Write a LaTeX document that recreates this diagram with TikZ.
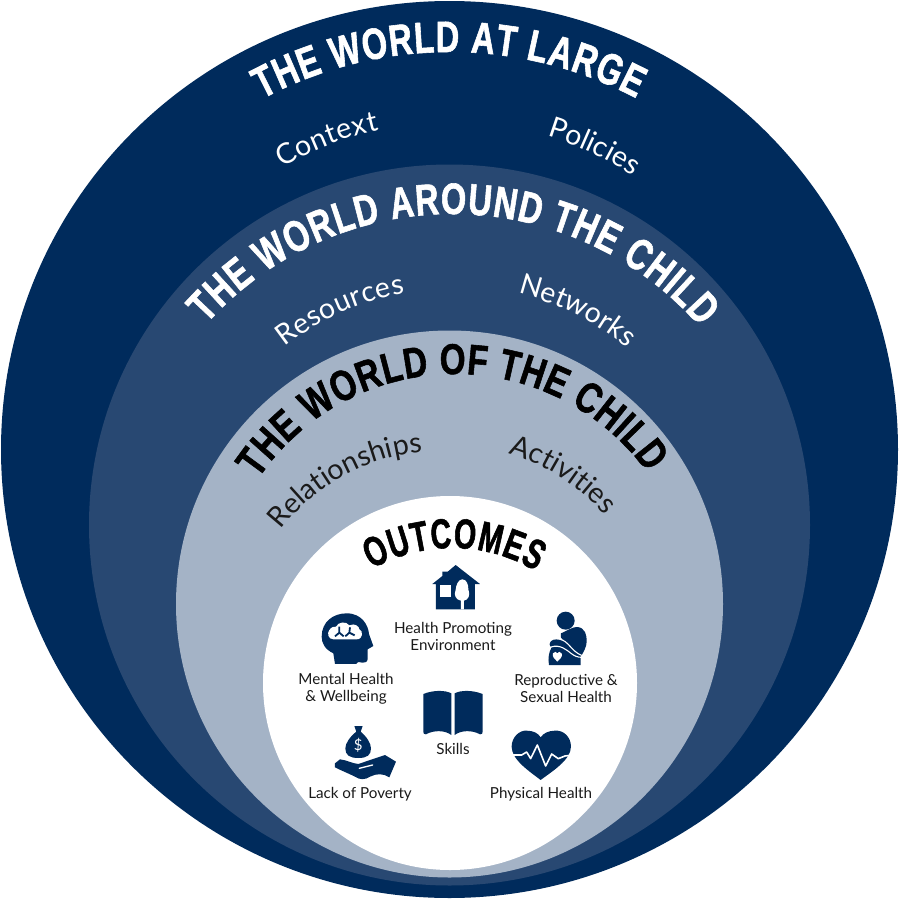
\documentclass[tikz,border=0pt]{standalone}
\usepackage{fontspec}
\setmainfont{Lato}
\newfontfamily\titlef[FakeStretch=0.74,FakeBold=1.3]{Liberation Sans}
\newfontfamily\titleh[FakeStretch=0.77,FakeBold=1.3]{Liberation Sans}
\newfontfamily\titleg[FakeStretch=0.68,FakeBold=1.3]{Liberation Sans}
\usetikzlibrary{decorations.text}
\definecolor{navy}{HTML}{002B5C}
\definecolor{midblue}{HTML}{284872}
\definecolor{paleblue}{HTML}{A4B3C6}
\definecolor{ink}{HTML}{1A1A1A}
\newcommand{\twhite}{\titlef\bfseries\fontsize{44}{44}\selectfont\color{white}}
\newcommand{\tblack}{\titleh\bfseries\fontsize{43}{43}\selectfont\color{black}}
\newcommand{\toutc}{\titleg\bfseries\fontsize{42}{42}\selectfont\color{black}}
\newcommand{\lwhite}{\fontsize{28.5}{29}\selectfont\color{white}}
\newcommand{\lblack}{\fontsize{28.5}{29}\selectfont\color{ink}}
\newcommand{\arclabel}[7]{\path[decorate,decoration={text along path,text align={fit to path},text={|#6|#7}}] (#1,#2)+(#3:#4) arc[start angle=#3,end angle=#5,radius=#4];}
\tikzset{
  small/.style={text=ink,font=\fontsize{15.2}{17}\selectfont,align=center,inner sep=0pt},
  icon/.style={fill=navy,draw=none},
  cut/.style={fill=white,draw=none},
  cutline/.style={draw=white,fill=none,line cap=round,line join=round},
  zoomone/.style={shift={(290,510)},x=0.3333pt,y=-0.3333pt},
  zoomtwo/.style={shift={(290,680)},x=0.3333pt,y=-0.3333pt},
  zoomsev/.style={shift={(535,600)},x=0.3333pt,y=-0.3333pt}
}
\begin{document}
\begin{tikzpicture}[x=1pt,y=-1pt]
\useasboundingbox (0,0) rectangle (900,900);
\fill[white] (0,0) rectangle (900,900);
\fill[navy] (449.5,449.5) circle[radius=448.5];
\fill[midblue] (449.5,525) circle[radius=360.5];
\fill[paleblue] (449.5,604) circle[radius=273.5];
\fill[white] (450,683) circle[radius=187];
% curved headings
\arclabel{450}{450}{241.8}{398}{297.9}{\twhite}{THE WORLD AT LARGE}
\arclabel{452}{543}{221.7}{329}{319}{\twhite}{THE WORLD AROUND THE CHILD}
\arclabel{455}{611}{213.8}{237}{324.4}{\tblack}{THE WORLD OF THE CHILD}
\arclabel{452}{711}{240.5}{163}{301}{\toutc}{OUTCOMES}
% curved labels
\arclabel{450}{450}{239.3}{328}{257.5}{\lwhite}{Context}
\arclabel{450}{450}{287.2}{329}{303.2}{\lwhite}{Policies}
\arclabel{452}{560}{231.8}{271}{260}{\lwhite}{Resources}
\arclabel{452}{560}{283.9}{275}{309.4}{\lwhite}{Networks}
\arclabel{442}{655}{217.8}{204}{264}{\lblack}{Relationships}
\arclabel{447}{655}{287}{211}{318.4}{\lblack}{Activities}
% small labels
\node[small] (env) at (453,636.5) {Health Promoting\\Environment};
\node[small] (mental) at (346,688.5) {Mental Health\\\& Wellbeing};
\node[small] (repro) at (566,688.5) {Reproductive \&\\Sexual Health};
\node[small] (skills) at (453,749) {Skills};
\node[small] (poverty) at (360,794) {Lack of Poverty};
\node[small] (physical) at (541,794) {Physical Health};
% house
\begin{scope}[zoomone]
\fill[icon] (497,165) -- (570,222) -- (555,222) -- (555,298) -- (438,298) -- (438,222) -- (427,222) -- (457,198) -- (457,185) -- (472,185) -- (472,186) -- cycle;
\fill[cut] (450,225) rectangle (482,262);
\fill[cut] (513,298) -- (513,272) .. controls (498,270) and (490,255) .. (497,240) .. controls (498,225) and (505,208) .. (517,208) .. controls (530,208) and (536,225) .. (535,238) .. controls (542,255) and (535,270) .. (522,272) -- (522,298) -- cycle;
% head
\fill[icon] (135,462) -- (130,430) .. controls (105,418) and (95,400) .. (95,380) .. controls (95,335) and (130,310) .. (170,310) .. controls (215,310) and (235,345) .. (237,372) -- (250,408) -- (233,418) -- (233,448) .. controls (232,458) and (222,460) .. (205,456) -- (198,462) -- cycle;
\fill[cut] (130,388) .. controls (115,388) and (110,370) .. (118,360) .. controls (125,350) and (132,350) .. (138,350) .. controls (145,335) and (168,333) .. (178,346) .. controls (195,338) and (208,350) .. (208,358) .. controls (220,362) and (220,388) .. (200,388) -- cycle;
\draw[navy,line width=1.8pt] (148,350) -- (148,368) (135,379) -- (148,368) -- (161,379);
\draw[navy,line width=1.8pt] (180,352) -- (178,368) (166,379) -- (178,368) -- (194,376);
\end{scope}
% pregnant figure
\begin{scope}[zoomsev]
\fill[icon] (92,62) circle[radius=27];
\fill[icon] (78,100) .. controls (100,90) and (115,80) .. (127,81) .. controls (150,83) and (156,105) .. (155,125) .. controls (155,140) and (145,158) .. (137,170) -- (137,195) -- (42,195) .. controls (38,175) and (42,155) .. (50,142) .. controls (42,138) and (42,128) .. (50,122) .. controls (58,116) and (70,118) .. (85,122) .. controls (78,115) and (74,108) .. (78,100) -- cycle;
\draw[cutline,line width=1.1pt] (75,118) .. controls (100,122) and (110,155) .. (140,166);
\draw[cutline,line width=1.1pt] (48,141) .. controls (75,132) and (95,150) .. (108,160) .. controls (118,168) and (128,172) .. (140,172);
\fill[cut] (67,185) .. controls (60,178) and (50,170) .. (54,160) .. controls (58,153) and (65,155) .. (67,160) .. controls (69,155) and (76,153) .. (80,160) .. controls (84,170) and (74,178) .. (67,185) -- cycle;
\end{scope}
% book, bag, hand, heart
\begin{scope}[zoomtwo]
\fill[icon] (400,42) .. controls (430,30) and (465,30) .. (484,40) -- (484,165) .. controls (465,150) and (430,150) .. (408,163) .. controls (402,164) and (400,160) .. (400,155) -- cycle;
\fill[icon] (578,42) .. controls (548,30) and (513,30) .. (494,40) -- (494,165) .. controls (513,150) and (548,150) .. (570,163) .. controls (576,164) and (578,160) .. (578,155) -- cycle;
% money bag
\fill[icon] (193,138) -- (218,138) -- (212,155) .. controls (230,170) and (243,190) .. (243,205) .. controls (243,225) and (232,234) .. (205,234) .. controls (178,234) and (166,225) .. (166,205) .. controls (166,190) and (180,170) .. (199,155) -- cycle;
\node[text=white,font=\fontsize{15}{15}\selectfont,inner sep=0pt] (dollar) at (205,197) {\$};
% hand
\fill[icon] (135,250) -- (150,238) .. controls (170,240) and (185,250) .. (205,252) -- (285,225) -- (318,245) -- (298,292) .. controls (280,280) and (260,280) .. (240,290) .. controls (225,300) and (210,300) .. (195,290) .. controls (175,280) and (150,270) .. (135,262) -- cycle;
\draw[cutline,line width=1.3pt] (208,265) -- (248,255);
% heart
\fill[icon] (752,300) .. controls (720,275) and (665,240) .. (665,200) .. controls (665,170) and (690,150) .. (710,152) .. controls (730,152) and (745,160) .. (752,172) .. controls (760,160) and (775,152) .. (795,152) .. controls (820,150) and (843,170) .. (843,200) .. controls (843,240) and (785,275) .. (752,300) -- cycle;
\draw[cutline,line width=1.6pt,line cap=butt] (665,225) -- (695,225) -- (710,216) -- (722,236) -- (742,195) -- (767,258) -- (785,222) -- (805,236) -- (825,228) -- (850,225);
\end{scope}
\end{tikzpicture}
\end{document}
